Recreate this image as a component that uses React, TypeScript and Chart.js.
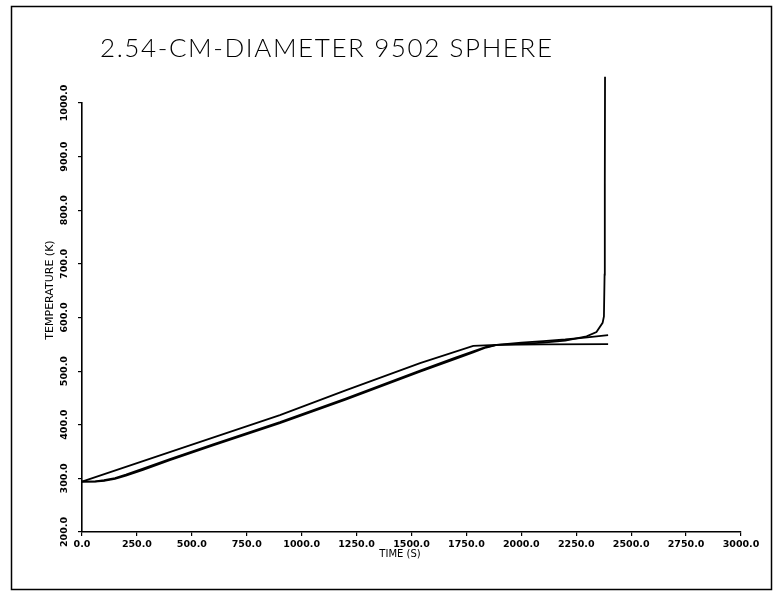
import React, { useEffect, useRef } from "react";
import { Chart, registerables } from "chart.js";

Chart.register(...registerables);

// ---- data ----
const chartTitle = "2.54-CM-DIAMETER 9502 SPHERE";
const xTitle = "TIME (S)";
const yTitle = "TEMPERATURE (K)";

const xTickValues = [0, 250, 500, 750, 1000, 1250, 1500, 1750, 2000, 2250, 2500, 2750, 3000];
const yTickValues = [200, 300, 400, 500, 600, 700, 800, 900, 1000];

// surface temperature (thin upper line on the ramp, flat hold afterwards)
const surfaceTime = [0, 450, 901, 1200, 1539, 1781, 1888, 2100, 2395];
const surfaceTemp = [294, 356, 418, 464, 515, 547, 549, 550, 550.5];

// intermediate interior point (slowly rising after convergence)
const midTime = [0, 60, 100, 150, 200, 278, 400, 600, 901, 1200, 1539, 1700, 1781, 1840, 1888, 2000, 2100, 2200, 2300, 2395];
const midTemp = [294, 294.5, 296.5, 300.5, 307, 318, 336, 364, 405, 449, 501, 525, 537, 545, 549, 553, 556, 559, 563, 567];

// centre (runaway)
const centerTime = [0, 60, 100, 150, 200, 278, 400, 600, 901, 1200, 1539, 1700, 1781, 1840, 1888, 2000, 2100, 2200, 2297, 2342, 2370, 2376, 2379, 2380, 2381];
const centerTemp = [294, 294, 295.5, 299, 305, 316, 334, 362, 403, 447, 499, 523, 535, 544, 549, 551, 553, 557, 565, 573, 590, 602, 680, 850, 1049];

const toPoints = (xs: number[], ys: number[]) => xs.map((x, i) => ({ x, y: ys[i] }));

const overlay = {
  id: "overlay",
  afterDraw(chart: any) {
    const ctx = chart.ctx as CanvasRenderingContext2D;
    const ys = chart.scales.y;
    ctx.save();
    // outer frame
    ctx.strokeStyle = "#000";
    ctx.lineWidth = 1.5;
    ctx.strokeRect(11.5, 6.5, 760, 583);

    ctx.fillStyle = "#000";
    // y tick labels, rotated
    ctx.font = 'bold 9.5px "DejaVu Sans"';
    ctx.textAlign = "center";
    ctx.textBaseline = "middle";
    for (const v of yTickValues) {
      const py = ys.getPixelForValue(v);
      ctx.save();
      ctx.translate(65, py);
      ctx.rotate(-Math.PI / 2);
      ctx.fillText(v.toFixed(1), 0, 0);
      ctx.restore();
    }
    // y title
    ctx.font = '11px "DejaVu Sans"';
    ctx.save();
    ctx.translate(50, 290);
    ctx.rotate(-Math.PI / 2);
    ctx.fillText(yTitle, 0, 0);
    ctx.restore();
    // x title
    ctx.font = '10px "DejaVu Sans"';
    ctx.fillText(xTitle, 400, 554);

    // main title, spread to the reference width
    ctx.font = '300 26px Lato, "DejaVu Sans"';
    ctx.textAlign = "left";
    ctx.textBaseline = "alphabetic";
    const w = ctx.measureText(chartTitle).width;
    const target = 452;
    const sp = (target - w) / (chartTitle.length - 1);
    (ctx as any).letterSpacing = `${sp}px`;
    ctx.fillText(chartTitle, 100, 57);
    (ctx as any).letterSpacing = "0px";
    ctx.restore();
  },
};

export default function App() {
  const ref = useRef<HTMLCanvasElement | null>(null);

  useEffect(() => {
    if (!ref.current) return;
    const lineStyle = {
      borderColor: "#000",
      borderWidth: 1.8,
      pointRadius: 0,
      fill: false,
      tension: 0,
      clip: false as any,
    };
    const chart = new Chart(ref.current, {
      type: "line",
      data: {
        datasets: [
          { label: "surface", data: toPoints(surfaceTime, surfaceTemp), ...lineStyle },
          { label: "mid", data: toPoints(midTime, midTemp), ...lineStyle },
          { label: "center", data: toPoints(centerTime, centerTemp), ...lineStyle },
        ],
      },
      options: {
        animation: false,
        responsive: false,
        devicePixelRatio: 1,
        layout: { padding: { left: 22, right: 35, top: 103, bottom: 21 } },
        plugins: { legend: { display: false }, tooltip: { enabled: false }, title: { display: false } },
        scales: {
          x: {
            type: "linear",
            min: 0,
            max: 3000,
            afterBuildTicks: (s: any) => {
              s.ticks = xTickValues.map((v) => ({ value: v }));
            },
            afterFit: (s: any) => {
              s.height = 40;
            },
            ticks: {
              autoSkip: false,
              maxRotation: 0,
              minRotation: 0,
              padding: 3,
              color: "#000",
              font: { family: "DejaVu Sans", size: 9.5, weight: "bold" },
              callback: (v: any) => Number(v).toFixed(1),
            },
            grid: { drawOnChartArea: false, drawTicks: true, tickLength: 4, color: "#000", lineWidth: 1.2 },
            border: { display: true, color: "#000", width: 1.6 },
          },
          y: {
            type: "linear",
            min: 200,
            max: 1000,
            afterBuildTicks: (s: any) => {
              s.ticks = yTickValues.map((v) => ({ value: v }));
            },
            afterFit: (s: any) => {
              s.width = 60;
            },
            ticks: { display: false },
            grid: { drawOnChartArea: false, drawTicks: true, tickLength: 4, color: "#000", lineWidth: 1.2 },
            border: { display: true, color: "#000", width: 1.6 },
          },
        },
      },
      plugins: [overlay],
    });
    return () => chart.destroy();
  }, []);

  return (
    <canvas
      ref={ref}
      width={776}
      height={593}
      style={{ position: "absolute", left: 0, top: 0, width: 776, height: 593, background: "#fff" }}
    />
  );
}
